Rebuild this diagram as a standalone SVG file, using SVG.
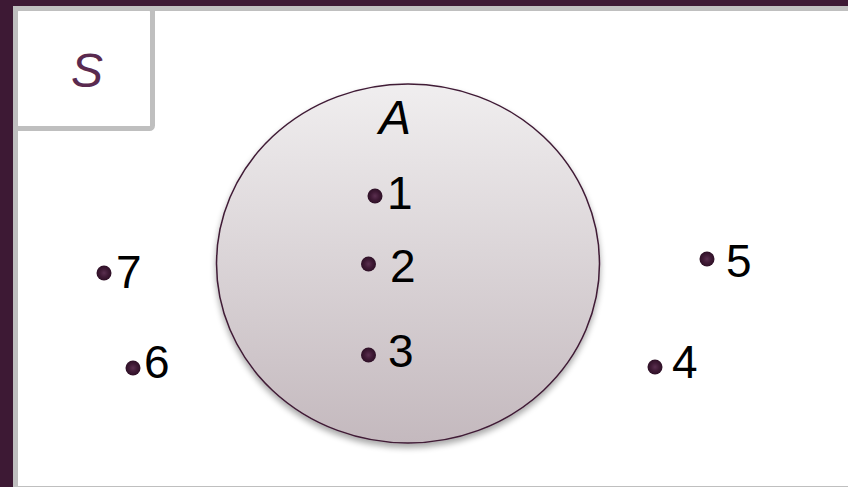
<svg xmlns="http://www.w3.org/2000/svg" width="848" height="487" viewBox="0 0 848 487">
  <defs>
    <linearGradient id="setA" x1="0" y1="0" x2="0" y2="1">
      <stop offset="0" stop-color="#f0eeef"/>
      <stop offset="1" stop-color="#c4b9be"/>
    </linearGradient>
    <radialGradient id="dotG" cx="0.5" cy="0.5" r="0.5">
      <stop offset="0" stop-color="#5a2f4f"/>
      <stop offset="0.55" stop-color="#3f1a35"/>
      <stop offset="1" stop-color="#2e1026"/>
    </radialGradient>
    <filter id="shadow" x="-10%" y="-10%" width="120%" height="125%">
      <feGaussianBlur in="SourceAlpha" stdDeviation="3"/>
      <feOffset dx="0" dy="4" result="b"/>
      <feComponentTransfer><feFuncA type="linear" slope="0.35"/></feComponentTransfer>
      <feMerge><feMergeNode/><feMergeNode in="SourceGraphic"/></feMerge>
    </filter>
  </defs>
  <style>
    .num { font-family: "Liberation Sans", Arial, sans-serif; font-size: 46px; fill: #000; }
    .lbl { font-family: "Liberation Sans", Arial, sans-serif; font-style: italic; }
    .dot { fill: url(#dotG); }
  </style>

  <!-- frame -->
  <rect x="0" y="0" width="848" height="487" fill="#3d1934"/>
  <rect x="13" y="6" width="835" height="481" fill="#bfbfbf"/>
  <rect x="18" y="11" width="830" height="475" fill="#ffffff"/>

  <!-- universal set label box -->
  <g id="S">
    <rect x="15.5" y="8.5" width="137" height="120" rx="3" fill="#ffffff" stroke="#bfbfbf" stroke-width="5"/>
    <text class="lbl" x="87" y="87" font-size="48" fill="#5a2a4f" text-anchor="middle">S</text>
  </g>

  <!-- set A -->
  <g id="A">
    <ellipse cx="408" cy="263.5" rx="191.5" ry="179.5" fill="url(#setA)" stroke="#3f1a35" stroke-width="1.5" filter="url(#shadow)"/>
    <text class="lbl" x="395" y="134" font-size="48" fill="#000" text-anchor="middle">A</text>
  </g>

  <g id="e1"><circle class="dot" cx="375" cy="196" r="7.5"/><text class="num" x="387" y="209">1</text></g>
  <g id="e2"><circle class="dot" cx="368.5" cy="264" r="7.5"/><text class="num" x="390" y="282">2</text></g>
  <g id="e3"><circle class="dot" cx="368.5" cy="355" r="7.5"/><text class="num" x="388" y="367">3</text></g>
  <g id="e4"><circle class="dot" cx="655" cy="367" r="7.5"/><text class="num" x="672" y="378">4</text></g>
  <g id="e5"><circle class="dot" cx="707" cy="259" r="7.5"/><text class="num" x="726" y="277">5</text></g>
  <g id="e6"><circle class="dot" cx="133" cy="368" r="7.5"/><text class="num" x="144" y="378">6</text></g>
  <g id="e7"><circle class="dot" cx="104" cy="273" r="7.5"/><text class="num" x="116" y="288">7</text></g>

  <g id="connectors"></g>
</svg>
